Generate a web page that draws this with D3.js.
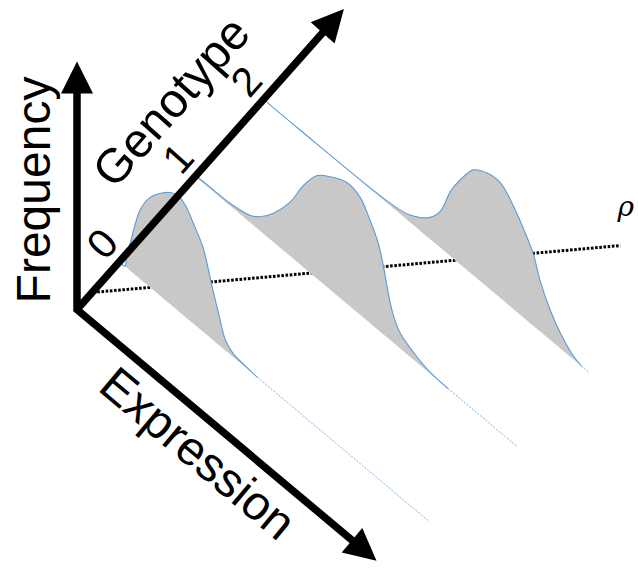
<!DOCTYPE html>
<html>
<head>
<meta charset="utf-8">
<script src="https://cdn.jsdelivr.net/npm/d3@7"></script>
<style>
  body { margin: 0; background: #fff; }
  svg { display: block; font-family: "Liberation Sans", Arial, sans-serif; }
</style>
</head>
<body>
<div id="chart-container"></div>
<script>
// genotype classes on the oblique axis
const genotypes = [0, 1, 2];
const genotypeLabels = ["0", "1", "2"];

// expression density for each genotype (expression units, relative frequency)
const expression0 = [0, 0.18, 0.23, 0.35, 0.68, 1.00, 1.43, 1.65, 1.88, 2.15, 2.40, 2.73, 3.00, 3.28, 3.45, 3.70, 4.13, 4.50, 10.08];
const frequency0  = [0, 0, 0.10, 0.23, 0.58, 0.75, 0.88, 0.93, 0.96, 0.93, 0.84, 0.70, 0.46, 0.22, 0.09, 0.03, 0.01, 0, 0];

const expression1 = [0, 0.10, 1.15, 1.80, 2.13, 2.55, 3.10, 3.53, 3.98, 4.40, 4.95, 5.38, 5.70, 5.98, 6.15, 6.30, 6.45, 6.68, 7.13, 7.68, 8.25, 10.5];
const frequency1  = [0, 0.01, 0.02, 0.06, 0.12, 0.24, 0.45, 0.68, 0.86, 0.94, 1.01, 0.98, 0.86, 0.72, 0.56, 0.38, 0.24, 0.13, 0.06, 0.01, 0, 0];

const expression2 = [0, 1.2, 4.13, 4.78, 5.43, 5.78, 6.10, 6.43, 6.85, 7.30, 7.73, 8.15, 8.48, 8.80, 9.03, 9.35, 9.68, 10.10, 10.38, 10.6];
const frequency2  = [0, 0, 0.02, 0.06, 0.18, 0.31, 0.54, 0.71, 0.88, 0.95, 0.96, 0.86, 0.74, 0.60, 0.42, 0.25, 0.13, 0.03, 0, 0];

// correlation line on the genotype/expression floor
const rhoGenotype = [-0.33, 3.14];
const rhoExpression = [0.09, 9.1];

const axisTitles = ["Frequency", "Genotype", "Expression"];
const rhoLabel = "ρ";

const width = 638;
const height = 568;
const origin = [77, 309.5];
const deg = Math.PI / 180;
const genoAngle = -48.4;
const exprAngle = 40;
const genoDir = [Math.cos(genoAngle * deg), Math.sin(genoAngle * deg)];
const exprDir = [Math.cos(exprAngle * deg), Math.sin(exprAngle * deg)];

// distances (px) along each axis direction
const g = d3.scaleLinear().domain([0, 1, 2]).range([64, 178, 281]);
const e = d3.scaleLinear().domain([0, 10]).range([0, 400]);
const f = d3.scaleLinear().domain([0, 1]).range([0, 120]);

function project(gv, ev, fv) {
    const dg = g(gv), de = e(ev), df = f(fv);
    return [origin[0] + genoDir[0] * dg + exprDir[0] * de,
            origin[1] + genoDir[1] * dg + exprDir[1] * de - df];
}

const exprArrays = [expression0, expression1, expression2];
const freqArrays = [frequency0, frequency1, frequency2];
const curves = genotypes.map((gv, i) => ({
    genotype: gv,
    points: exprArrays[i].map((ev, k) => ({ e: ev, f: freqArrays[i][k] }))
}));

const svg = d3.create("svg")
    .attr("width", width)
    .attr("height", height)
    .style("background", "#fff");

// dotted rho line (behind the densities)
const rhoA = project(rhoGenotype[0], rhoExpression[0], 0);
const rhoB = project(rhoGenotype[1], rhoExpression[1], 0);
svg.append("line")
    .attr("x1", rhoA[0]).attr("y1", rhoA[1])
    .attr("x2", rhoB[0]).attr("y2", rhoB[1])
    .attr("stroke", "#000")
    .attr("stroke-width", 3)
    .attr("stroke-dasharray", "2.6,1.6");

// density curves
const smooth = d3.curveCatmullRom.alpha(0.5);
curves.forEach(c => {
    const pts = c.points;
    const body = pts.slice(0, -1);
    const area = d3.area()
        .x(d => project(c.genotype, d.e, d.f)[0])
        .y0(d => project(c.genotype, d.e, 0)[1])
        .y1(d => project(c.genotype, d.e, d.f)[1])
        .curve(smooth);
    const line = d3.line()
        .x(d => project(c.genotype, d.e, d.f)[0])
        .y(d => project(c.genotype, d.e, d.f)[1])
        .curve(smooth);

    svg.append("path")
        .attr("d", area(body))
        .attr("fill", "#c8c8c8");
    svg.append("path")
        .attr("d", line(body))
        .attr("fill", "none")
        .attr("stroke", "#5b9bd5")
        .attr("stroke-width", 1.1);
    svg.append("path")
        .attr("d", d3.line()(pts.slice(-2).map(d => project(c.genotype, d.e, d.f))))
        .attr("fill", "none")
        .attr("stroke", "#5b9bd5")
        .attr("stroke-width", 0.8)
        .attr("stroke-dasharray", "2,1.5");
});

// axes with arrowheads
const headLen = 32, headHalf = 16, axisWidth = 7.5;
const axes = [
    { dir: [0, -1], len: 248 },
    { dir: genoDir, len: 402 },
    { dir: exprDir, len: 391 }
];
const at = (dir, d) => [origin[0] + dir[0] * d, origin[1] + dir[1] * d];

const freqBase = at(axes[0].dir, axes[0].len - headLen + 1);
const exprBase = at(axes[2].dir, axes[2].len - headLen + 1);
const genoBase = at(axes[1].dir, axes[1].len - headLen + 1);

svg.append("path")
    .attr("d", d3.line()([freqBase, origin, exprBase]))
    .attr("fill", "none")
    .attr("stroke", "#000")
    .attr("stroke-width", axisWidth)
    .attr("stroke-linejoin", "miter");
svg.append("path")
    .attr("d", d3.line()([origin, genoBase]))
    .attr("fill", "none")
    .attr("stroke", "#000")
    .attr("stroke-width", axisWidth);

axes.forEach(a => {
    const tip = at(a.dir, a.len);
    const base = at(a.dir, a.len - headLen);
    const n = [-a.dir[1], a.dir[0]];
    svg.append("path")
        .attr("d", d3.line()([
            tip,
            [base[0] + n[0] * headHalf, base[1] + n[1] * headHalf],
            [base[0] - n[0] * headHalf, base[1] - n[1] * headHalf]
        ]) + "Z")
        .attr("fill", "#000");
});

// titles
svg.append("text")
    .attr("transform", `translate(50,190) rotate(-90)`)
    .attr("text-anchor", "middle")
    .attr("font-size", 48)
    .text(axisTitles[0]);

const genoNormal = [genoDir[1], -genoDir[0]];
const gt = at(genoDir, 218);
svg.append("text")
    .attr("transform", `translate(${gt[0] + genoNormal[0] * 68},${gt[1] + genoNormal[1] * 68}) rotate(${genoAngle})`)
    .attr("text-anchor", "middle")
    .attr("dy", "0.35em")
    .attr("font-size", 48)
    .text(axisTitles[1]);

svg.append("g")
    .selectAll("text")
    .data(genotypes)
    .join("text")
    .attr("transform", d => {
        const p = at(genoDir, g(d) + 2);
        return `translate(${p[0] + genoNormal[0] * 25},${p[1] + genoNormal[1] * 25}) rotate(${genoAngle})`;
    })
    .attr("text-anchor", "middle")
    .attr("dy", "0.35em")
    .attr("font-size", 41)
    .text((d, i) => genotypeLabels[i]);

const exprNormal = [-exprDir[1], exprDir[0]];
const et = at(exprDir, 185);
svg.append("text")
    .attr("transform", `translate(${et[0] + exprNormal[0] * 32},${et[1] + exprNormal[1] * 32}) rotate(${exprAngle})`)
    .attr("text-anchor", "middle")
    .attr("dy", "0.35em")
    .attr("font-size", 48)
    .text(axisTitles[2]);

svg.append("text")
    .attr("x", width - 4)
    .attr("y", rhoB[1] - 30)
    .attr("text-anchor", "end")
    .attr("font-family", "'DejaVu Serif', serif")
    .attr("font-style", "italic")
    .attr("font-size", 28)
    .text(rhoLabel);

document.getElementById("chart-container").appendChild(svg.node());
</script>
</body>
</html>
